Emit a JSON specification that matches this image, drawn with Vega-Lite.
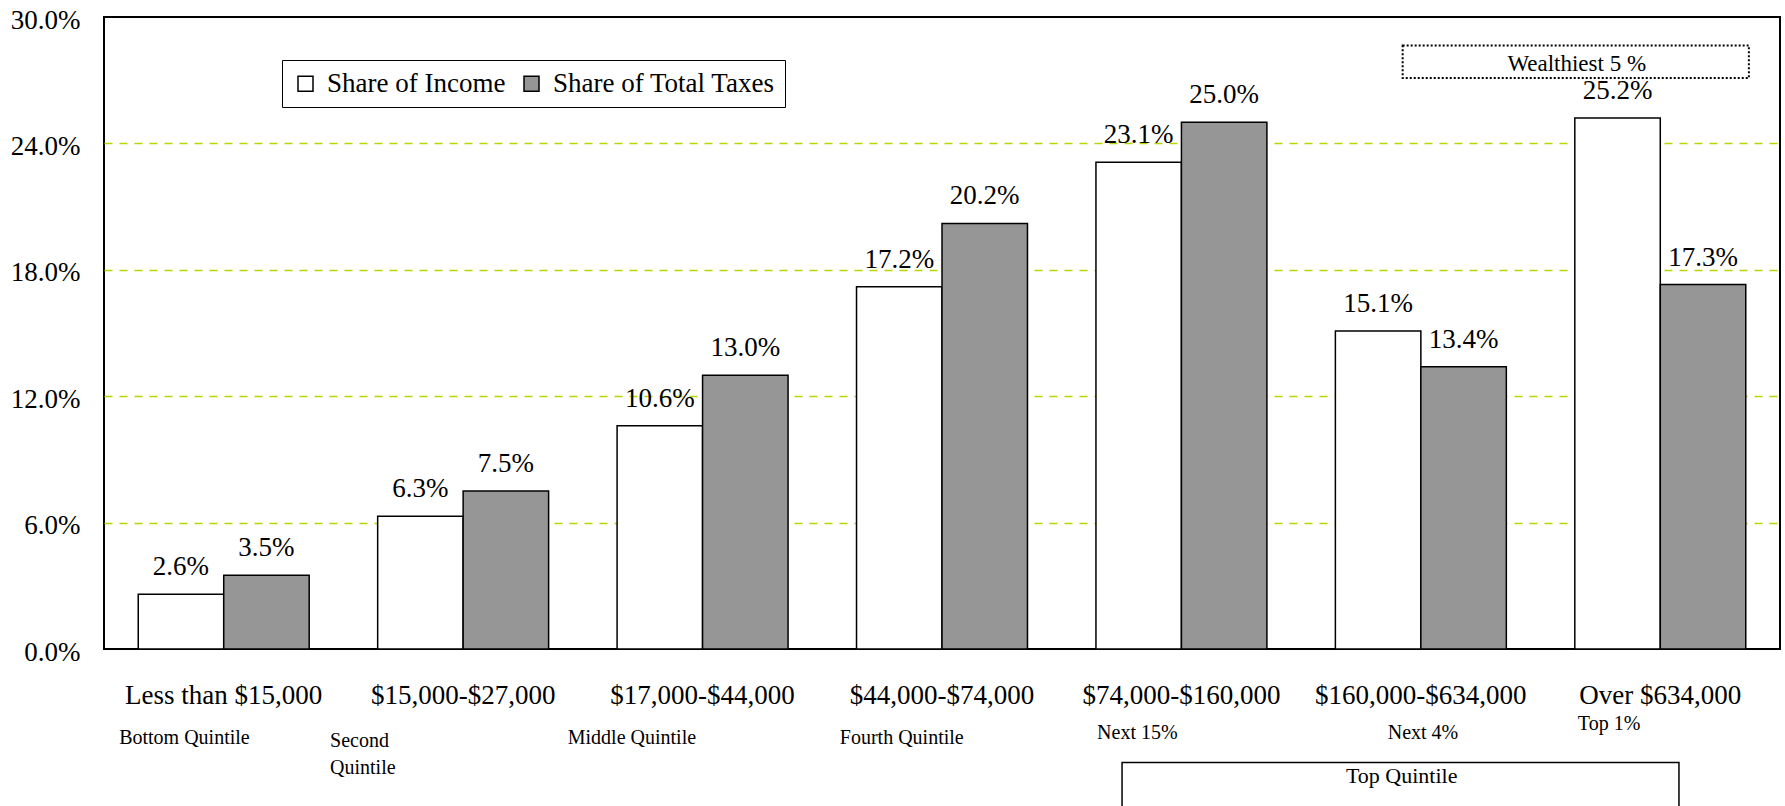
{
  "$schema": "https://vega.github.io/schema/vega-lite/v6.json",
  "width": 1676,
  "height": 632,
  "autosize": {"type": "none"},
  "padding": {"left": 104, "top": 17, "right": 5, "bottom": 157},
  "background": "white",
  "config": {
    "font": "Liberation Serif",
    "view": {"stroke": "black", "strokeWidth": 2},
    "text": {"font": "Liberation Serif", "color": "black"},
    "legend": {"labelFont": "Liberation Serif"}
  },
  "layer": [
    {
      "data": {
        "values": [
          {"bracket": "Less than $15,000", "series": "Share of Income", "share": 0.026},
          {"bracket": "Less than $15,000", "series": "Share of Total Taxes", "share": 0.035},
          {"bracket": "$15,000-$27,000", "series": "Share of Income", "share": 0.063},
          {"bracket": "$15,000-$27,000", "series": "Share of Total Taxes", "share": 0.075},
          {"bracket": "$17,000-$44,000", "series": "Share of Income", "share": 0.106},
          {"bracket": "$17,000-$44,000", "series": "Share of Total Taxes", "share": 0.130},
          {"bracket": "$44,000-$74,000", "series": "Share of Income", "share": 0.172},
          {"bracket": "$44,000-$74,000", "series": "Share of Total Taxes", "share": 0.202},
          {"bracket": "$74,000-$160,000", "series": "Share of Income", "share": 0.231},
          {"bracket": "$74,000-$160,000", "series": "Share of Total Taxes", "share": 0.250},
          {"bracket": "$160,000-$634,000", "series": "Share of Income", "share": 0.151},
          {"bracket": "$160,000-$634,000", "series": "Share of Total Taxes", "share": 0.134},
          {"bracket": "Over $634,000", "series": "Share of Income", "share": 0.252},
          {"bracket": "Over $634,000", "series": "Share of Total Taxes", "share": 0.173}
        ]
      },
      "encoding": {
        "x": {
          "field": "bracket", "type": "nominal", "sort": null,
          "scale": {"paddingInner": 0.286, "paddingOuter": 0.143},
          "axis": {
            "title": null, "labelAngle": 0, "labelFontSize": 27, "labelFont": "Liberation Serif",
            "labelColor": "black", "ticks": false, "tickSize": 0, "domain": false,
            "labelPadding": 54, "labelBaseline": "alphabetic", "labelLimit": 0
          }
        },
        "xOffset": {"field": "series", "type": "nominal", "scale": {"paddingInner": 0, "paddingOuter": 0}},
        "y": {
          "field": "share", "type": "quantitative",
          "scale": {"domain": [0, 0.3], "nice": false, "zero": true},
          "axis": {
            "title": null, "values": [0, 0.06, 0.12, 0.18, 0.24, 0.3], "format": ".1%",
            "labelFontSize": 27, "labelFont": "Liberation Serif", "labelColor": "black",
            "ticks": false, "domain": false, "labelPadding": 24, "labelOffset": 3, "labelFlush": false,
            "grid": true, "gridColor": "#b8d600", "gridDash": [8, 7], "gridWidth": 1.5,
            "gridOpacity": {"condition": {"test": "datum.value <= 0 || datum.value >= 0.3", "value": 0}, "value": 1}
          }
        }
      },
      "layer": [
        {
          "mark": {"type": "bar", "stroke": "black", "strokeWidth": 1.5},
          "encoding": {
            "fill": {
              "field": "series", "type": "nominal",
              "scale": {"domain": ["Share of Income", "Share of Total Taxes"], "range": ["#ffffff", "#969696"]},
              "legend": {
                "orient": "none", "legendX": 178, "legendY": 43, "direction": "horizontal",
                "title": null, "strokeColor": "black", "padding": 10, "fillColor": "white",
                "labelFontSize": 27, "labelFont": "Liberation Serif", "labelColor": "black",
                "symbolType": "square", "symbolSize": 225, "symbolStrokeColor": "black",
                "symbolStrokeWidth": 1.5, "labelOffset": 8, "columnPadding": 12, "labelLimit": 0
              }
            }
          }
        },
        {
          "mark": {"type": "text", "font": "Liberation Serif", "baseline": "alphabetic", "dy": -19, "fontSize": 27, "color": "black"},
          "encoding": {"text": {"field": "share", "type": "quantitative", "format": ".1%"}}
        }
      ]
    },
    {
      "layer": [
        {
          "data": {"values": [{"label": "Bottom Quintile"}]},
          "mark": {"type": "text", "font": "Liberation Serif", "align": "center", "baseline": "alphabetic", "fontSize": 20},
          "encoding": {
            "x": {"datum": 0.336, "type": "quantitative", "scale": {"domain": [0, 7], "nice": false, "zero": false}, "axis": null},
            "y": {"datum": -0.0451, "type": "quantitative", "scale": {"domain": [0, 0.3], "nice": false, "zero": false}, "axis": null},
            "text": {"field": "label"}
          }
        },
        {
          "data": {"values": [{"label": "Second\nQuintile"}]},
          "mark": {"type": "text", "font": "Liberation Serif", "align": "left", "baseline": "alphabetic", "fontSize": 20, "lineBreak": "\n", "lineHeight": 27},
          "encoding": {
            "x": {"datum": 0.944, "type": "quantitative", "scale": {"domain": [0, 7], "nice": false, "zero": false}, "axis": null},
            "y": {"datum": -0.0465, "type": "quantitative", "scale": {"domain": [0, 0.3], "nice": false, "zero": false}, "axis": null},
            "text": {"field": "label"}
          }
        },
        {
          "data": {"values": [{"label": "Middle Quintile"}]},
          "mark": {"type": "text", "font": "Liberation Serif", "align": "center", "baseline": "alphabetic", "fontSize": 20},
          "encoding": {
            "x": {"datum": 2.205, "type": "quantitative", "scale": {"domain": [0, 7], "nice": false, "zero": false}, "axis": null},
            "y": {"datum": -0.0451, "type": "quantitative", "scale": {"domain": [0, 0.3], "nice": false, "zero": false}, "axis": null},
            "text": {"field": "label"}
          }
        },
        {
          "data": {"values": [{"label": "Fourth Quintile"}]},
          "mark": {"type": "text", "font": "Liberation Serif", "align": "center", "baseline": "alphabetic", "fontSize": 20},
          "encoding": {
            "x": {"datum": 3.332, "type": "quantitative", "scale": {"domain": [0, 7], "nice": false, "zero": false}, "axis": null},
            "y": {"datum": -0.0451, "type": "quantitative", "scale": {"domain": [0, 0.3], "nice": false, "zero": false}, "axis": null},
            "text": {"field": "label"}
          }
        },
        {
          "data": {"values": [{"label": "Next 15%"}]},
          "mark": {"type": "text", "font": "Liberation Serif", "align": "center", "baseline": "alphabetic", "fontSize": 20},
          "encoding": {
            "x": {"datum": 4.316, "type": "quantitative", "scale": {"domain": [0, 7], "nice": false, "zero": false}, "axis": null},
            "y": {"datum": -0.0427, "type": "quantitative", "scale": {"domain": [0, 0.3], "nice": false, "zero": false}, "axis": null},
            "text": {"field": "label"}
          }
        },
        {
          "data": {"values": [{"label": "Next 4%"}]},
          "mark": {"type": "text", "font": "Liberation Serif", "align": "center", "baseline": "alphabetic", "fontSize": 20},
          "encoding": {
            "x": {"datum": 5.509, "type": "quantitative", "scale": {"domain": [0, 7], "nice": false, "zero": false}, "axis": null},
            "y": {"datum": -0.0427, "type": "quantitative", "scale": {"domain": [0, 0.3], "nice": false, "zero": false}, "axis": null},
            "text": {"field": "label"}
          }
        },
        {
          "data": {"values": [{"label": "Top 1%"}]},
          "mark": {"type": "text", "font": "Liberation Serif", "align": "center", "baseline": "alphabetic", "fontSize": 20},
          "encoding": {
            "x": {"datum": 6.286, "type": "quantitative", "scale": {"domain": [0, 7], "nice": false, "zero": false}, "axis": null},
            "y": {"datum": -0.0385, "type": "quantitative", "scale": {"domain": [0, 0.3], "nice": false, "zero": false}, "axis": null},
            "text": {"field": "label"}
          }
        },
        {
          "data": {"values": [{"label": "Top Quintile"}]},
          "mark": {"type": "rect", "fill": "white", "stroke": "black", "strokeWidth": 1.5},
          "encoding": {
            "x": {"datum": 4.252, "type": "quantitative", "scale": {"domain": [0, 7], "nice": false, "zero": false}, "axis": null},
            "x2": {"datum": 6.578},
            "y": {"datum": -0.0539, "type": "quantitative", "scale": {"domain": [0, 0.3], "nice": false, "zero": false}, "axis": null},
            "y2": {"datum": -0.09}
          }
        },
        {
          "data": {"values": [{"label": "Top Quintile"}]},
          "mark": {"type": "text", "font": "Liberation Serif", "align": "center", "baseline": "alphabetic", "fontSize": 22},
          "encoding": {
            "x": {"datum": 5.42, "type": "quantitative", "scale": {"domain": [0, 7], "nice": false, "zero": false}, "axis": null},
            "y": {"datum": -0.0636, "type": "quantitative", "scale": {"domain": [0, 0.3], "nice": false, "zero": false}, "axis": null},
            "text": {"field": "label"}
          }
        },
        {
          "data": {"values": [{"label": "Wealthiest 5 %"}]},
          "mark": {"type": "rect", "fill": "white", "stroke": "black", "strokeWidth": 2, "strokeDash": [2, 2]},
          "encoding": {
            "x": {"datum": 5.424, "type": "quantitative", "scale": {"domain": [0, 7], "nice": false, "zero": false}, "axis": null},
            "x2": {"datum": 6.87},
            "y": {"datum": 0.2865, "type": "quantitative", "scale": {"domain": [0, 0.3], "nice": false, "zero": false}, "axis": null},
            "y2": {"datum": 0.271}
          }
        },
        {
          "data": {"values": [{"label": "Wealthiest 5 %"}]},
          "mark": {"type": "text", "font": "Liberation Serif", "align": "center", "baseline": "alphabetic", "fontSize": 23},
          "encoding": {
            "x": {"datum": 6.151, "type": "quantitative", "scale": {"domain": [0, 7], "nice": false, "zero": false}, "axis": null},
            "y": {"datum": 0.2745, "type": "quantitative", "scale": {"domain": [0, 0.3], "nice": false, "zero": false}, "axis": null},
            "text": {"field": "label"}
          }
        }
      ]
    }
  ],
  "resolve": {"scale": {"x": "independent", "y": "independent"}}
}
